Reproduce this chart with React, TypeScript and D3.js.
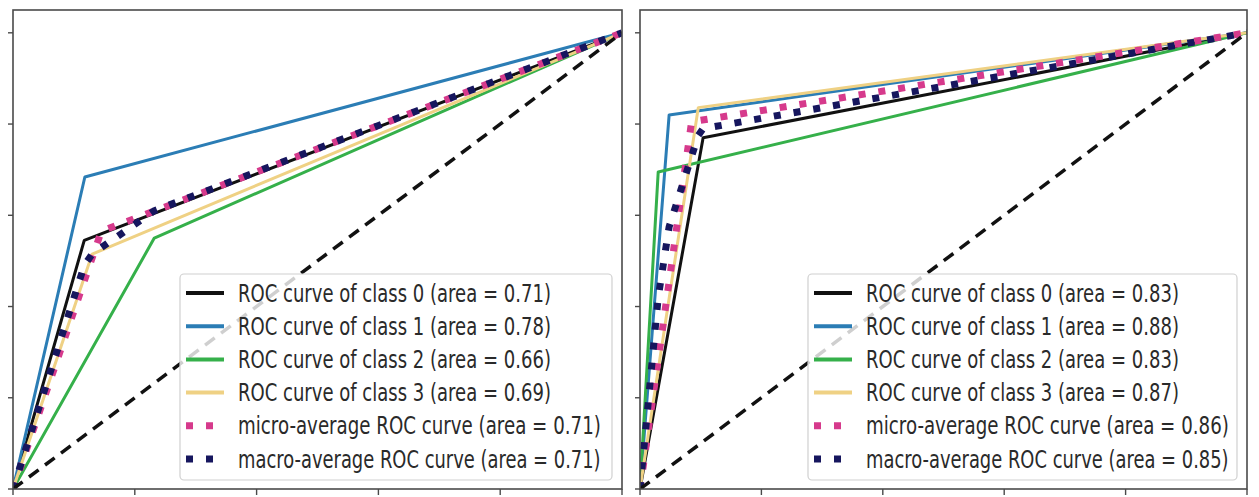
import { useEffect, useRef } from "react"
import * as d3 from "d3"

// ROC points [fpr, tpr]
const leftClass0 = [[0, 0], [0.117, 0.545], [1, 1]]
const leftClass1 = [[0, 0], [0.118, 0.684], [1, 1]]
const leftClass2 = [[0, 0], [0.232, 0.55], [1, 1]]
const leftClass3 = [[0, 0], [0.13, 0.515], [1, 1]]
const leftMicro = [[0, 0], [0.145, 0.565], [1, 1]]
const leftMacro = [[0, 0], [0.117, 0.49], [0.13, 0.515], [0.232, 0.61], [1, 1]]

const rightClass0 = [[0, 0], [0.104, 0.77], [1, 1]]
const rightClass1 = [[0, 0], [0.048, 0.82], [1, 1]]
const rightClass2 = [[0, 0], [0.03, 0.695], [1, 1]]
const rightClass3 = [[0, 0], [0.096, 0.836], [1, 1]]
const rightMicro = [[0, 0], [0.085, 0.805], [1, 1]]
const rightMacro = [[0, 0], [0.03, 0.42], [0.048, 0.575], [0.096, 0.775], [0.104, 0.79], [1, 1]]

const leftLabels = [
  "ROC curve of class 0 (area = 0.71)",
  "ROC curve of class 1 (area = 0.78)",
  "ROC curve of class 2 (area = 0.66)",
  "ROC curve of class 3 (area = 0.69)",
  "micro-average ROC curve (area = 0.71)",
  "macro-average ROC curve (area = 0.71)",
]
const rightLabels = [
  "ROC curve of class 0 (area = 0.83)",
  "ROC curve of class 1 (area = 0.88)",
  "ROC curve of class 2 (area = 0.83)",
  "ROC curve of class 3 (area = 0.87)",
  "micro-average ROC curve (area = 0.86)",
  "macro-average ROC curve (area = 0.85)",
]

const ticks = [0, 0.2, 0.4, 0.6, 0.8, 1.0]
const diagonal = [[0, 0], [1, 1]]

const styles = [
  { color: "#111111", width: 3, dash: null },
  { color: "#2b7db5", width: 3, dash: null },
  { color: "#35b04a", width: 3, dash: null },
  { color: "#efd184", width: 3, dash: null },
  { color: "#d63a8c", width: 7, dash: "7,13" },
  { color: "#16165e", width: 7, dash: "7,13" },
]

export default function App() {
  const svgRef = useRef<SVGSVGElement>(null)

  useEffect(() => {
    if (!svgRef.current) return
    const svg = d3.select(svgRef.current)
    svg.selectAll("*").remove()

    const panels = [
      { x0: 13, x1: 622, series: [leftClass0, leftClass1, leftClass2, leftClass3, leftMicro, leftMacro], labels: leftLabels, legendX: 180, legendW: 432 },
      { x0: 640, x1: 1247, series: [rightClass0, rightClass1, rightClass2, rightClass3, rightMicro, rightMacro], labels: rightLabels, legendX: 808, legendW: 429 },
    ]

    panels.forEach((p) => {
      const x = d3.scaleLinear().domain([0, 1]).range([p.x0, p.x1])
      const y = d3.scaleLinear().domain([0, 1.05]).range([489, 10])
      const g = svg.append("g")

      const clipId = `clip-${p.x0}`
      g.append("clipPath")
        .attr("id", clipId)
        .append("rect")
        .attr("x", p.x0)
        .attr("y", y(1.05))
        .attr("width", p.x1 - p.x0)
        .attr("height", y(0) - y(1.05))

      const line = d3
        .line<number[]>()
        .x((d) => x(d[0]))
        .y((d) => y(d[1]))

      const plot = g.append("g").attr("clip-path", `url(#${clipId})`)

      p.series.forEach((s, i) => {
        const st = styles[i]
        plot
          .append("path")
          .datum(s)
          .attr("fill", "none")
          .attr("stroke", st.color)
          .attr("stroke-width", st.width)
          .attr("stroke-dasharray", st.dash)
          .attr("stroke-linejoin", "round")
          .attr("d", line)
      })

      // chance line
      plot
        .append("path")
        .datum(diagonal)
        .attr("fill", "none")
        .attr("stroke", "#111")
        .attr("stroke-width", 3.5)
        .attr("stroke-dasharray", "12,8")
        .attr("d", line)

      // frame
      g.append("rect")
        .attr("x", p.x0)
        .attr("y", y(1.05))
        .attr("width", p.x1 - p.x0)
        .attr("height", y(0) - y(1.05))
        .attr("fill", "none")
        .attr("stroke", "#4a4a4a")
        .attr("stroke-width", 1.6)

      // ticks (labels fall outside the crop)
      g.selectAll(".yt")
        .data(ticks)
        .enter()
        .append("line")
        .attr("x1", p.x0 - 5)
        .attr("x2", p.x0)
        .attr("y1", (d) => y(d))
        .attr("y2", (d) => y(d))
        .attr("stroke", "#4a4a4a")
        .attr("stroke-width", 1.4)

      g.selectAll(".xt")
        .data(ticks)
        .enter()
        .append("line")
        .attr("x1", (d) => x(d))
        .attr("x2", (d) => x(d))
        .attr("y1", y(0))
        .attr("y2", y(0) + 6)
        .attr("stroke", "#4a4a4a")
        .attr("stroke-width", 1.4)

      // legend
      const lg = g.append("g")
      lg.append("rect")
        .attr("x", p.legendX)
        .attr("y", 274)
        .attr("width", p.legendW)
        .attr("height", 206)
        .attr("rx", 4)
        .attr("fill", "#ffffff")
        .attr("fill-opacity", 0.8)
        .attr("stroke", "#d0d0d0")
        .attr("stroke-width", 1.2)

      p.labels.forEach((label, i) => {
        const st = styles[i]
        const cy = 293 + i * 33.2
        lg.append("line")
          .attr("x1", p.legendX + 6)
          .attr("x2", p.legendX + 44)
          .attr("y1", cy)
          .attr("y2", cy)
          .attr("stroke", st.color)
          .attr("stroke-width", st.dash ? 7 : 4)
          .attr("stroke-dasharray", st.dash)
        // the reference text is narrow and tall: squeeze it horizontally
        const t = lg
          .append("text")
          .attr("x", 0)
          .attr("y", 0)
          .attr("font-family", "'DejaVu Sans', sans-serif")
          .attr("font-size", 24)
          .attr("fill", "#2a2a2a")
          .text(label)
        const natural = (t.node() as SVGTextElement).getComputedTextLength() || 1
        const target = i < 4 ? 313 : 363
        t.attr("transform", `translate(${p.legendX + 58},${cy + 8.5}) scale(${target / natural},1)`)
      })
    })
  }, [])

  return (
    <svg
      ref={svgRef}
      width={1259}
      height={497}
      style={{ position: "absolute", left: 0, top: 0, background: "#fff" }}
    ></svg>
  )
}
